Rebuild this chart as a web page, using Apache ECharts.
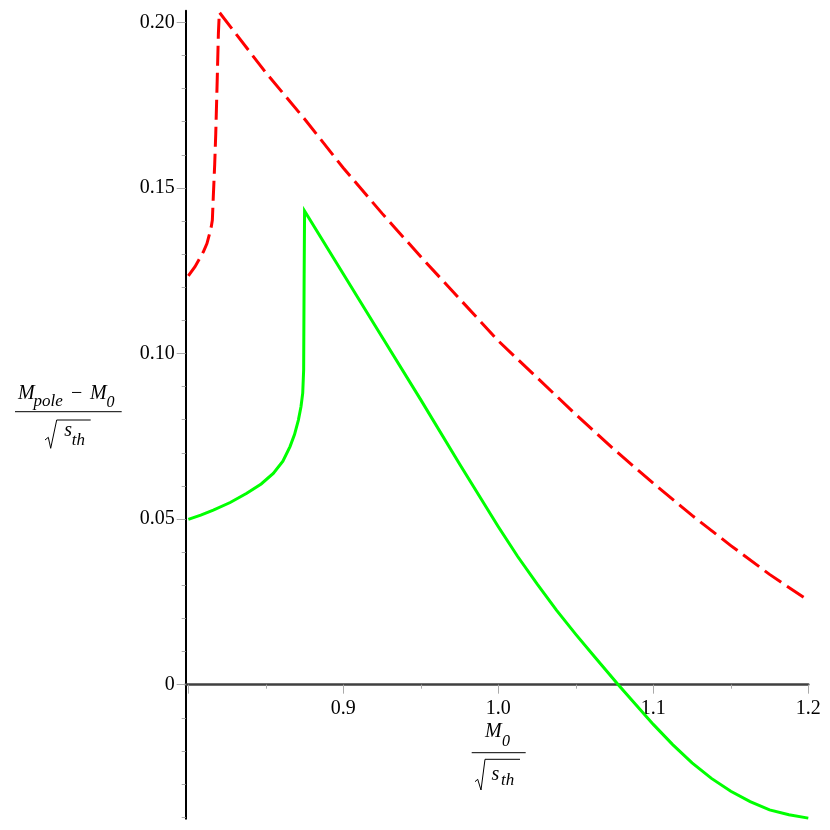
<!DOCTYPE html>
<html>
<head>
<meta charset="utf-8">
<script src="https://cdn.jsdelivr.net/npm/echarts@6/dist/echarts.min.js"></script>
<style>html,body{margin:0;padding:0;background:#fff}#c{width:830px;height:830px}</style>
</head>
<body>
<div id="c"></div>
<script>
// ---- data ----
var redX = [0.800, 0.8043, 0.8097, 0.8120, 0.8135, 0.8148, 0.8155, 0.8161, 0.8170, 0.8177, 0.8186, 0.8194, 0.8200, 0.850, 0.875, 0.900, 0.925, 0.950, 0.975, 1.000, 1.025, 1.050, 1.075, 1.100, 1.125, 1.150, 1.175, 1.200];
var redY = [0.1234, 0.1262, 0.1307, 0.1332, 0.1358, 0.1383, 0.1403, 0.1473, 0.1570, 0.1665, 0.1820, 0.1967, 0.2030, 0.1848, 0.1708, 0.1560, 0.1423, 0.1292, 0.1165, 0.1038, 0.0927, 0.0816, 0.0709, 0.0608, 0.0511, 0.0420, 0.0333, 0.0254];
var greenX = [0.800, 0.808, 0.8161, 0.827, 0.8377, 0.847, 0.8548, 0.861, 0.8656, 0.8685, 0.8710, 0.8727, 0.8738, 0.8744, 0.8747, 0.8750, 0.900, 0.925, 0.950, 0.975, 1.000, 1.0125, 1.025, 1.0375, 1.050, 1.0625, 1.0774, 1.100, 1.1125, 1.125, 1.1375, 1.150, 1.1625, 1.175, 1.1875, 1.200];
var greenY = [0.0499, 0.0512, 0.0527, 0.0550, 0.0578, 0.0606, 0.0638, 0.0675, 0.0719, 0.0755, 0.0799, 0.0840, 0.0880, 0.0950, 0.1222, 0.1430, 0.1240, 0.1050, 0.0860, 0.0666, 0.0477, 0.0387, 0.0304, 0.0225, 0.0152, 0.0082, 0.0000, -0.0120, -0.0181, -0.0236, -0.0283, -0.0322, -0.0353, -0.0378, -0.0393, -0.0403];
var xMajorTicks = [0.8, 0.9, 1.0, 1.1, 1.2];
var xMinorTicks = [0.85, 0.95, 1.05, 1.15];
var xTickLabels = [0.9, 1.0, 1.1, 1.2];
var yTickLabels = [0, 0.05, 0.10, 0.15, 0.20];
var yMinorTicks = [-0.04, -0.03, -0.02, -0.01, 0.01, 0.02, 0.03, 0.04, 0.06, 0.07, 0.08, 0.09, 0.11, 0.12, 0.13, 0.14, 0.16, 0.17, 0.18, 0.19];
var xRange = [0.7983, 1.2];
var yRange = [-0.0405, 0.2035];

function pairs(xs, ys) { return xs.map(function (x, i) { return [x, ys[i]]; }); }

var FONT = '"Liberation Serif", "Times New Roman", serif';
var tickColor = '#aaaaaa';

var GRID = { left: 185.7, top: 10.7, width: 622.6, height: 808.1 };
// distance from the grid bottom up to y = 0 (x axis drawn through zero)
var zeroOffset = -GRID.height * (0 - yRange[0]) / (yRange[1] - yRange[0]);

var chart = echarts.init(document.getElementById('c'), null, { renderer: 'canvas' });

function xAx(ticks, len, labels, showLine) {
  return {
    type: 'value', min: xRange[0], max: xRange[1], position: 'bottom', offset: zeroOffset,
    axisLine: { show: showLine, onZero: false, lineStyle: { color: '#404040', width: 2.5 } },
    axisTick: { show: true, length: len, customValues: ticks, lineStyle: { color: tickColor, width: 1 } },
    axisLabel: labels ? {
      show: true, customValues: labels, margin: 14, color: '#000', fontFamily: FONT, fontSize: 20,
      formatter: function (v) { return v.toFixed(1); }
    } : { show: false },
    splitLine: { show: false }
  };
}
function yAx(ticks, len, labels, showLine) {
  return {
    type: 'value', min: yRange[0], max: yRange[1], position: 'left',
    axisLine: { show: showLine, onZero: false, lineStyle: { color: '#000', width: 2 } },
    axisTick: { show: true, length: len, customValues: ticks, lineStyle: { color: tickColor, width: 1 } },
    axisLabel: labels ? {
      show: true, customValues: labels, margin: 11, color: '#000', fontFamily: FONT, fontSize: 20,
      formatter: function (v) { return Math.abs(v) < 1e-9 ? '0' : v.toFixed(2); }
    } : { show: false },
    splitLine: { show: false }
  };
}

var it = 'italic 20px ' + FONT;
var its = 'italic 17px ' + FONT;
var its0 = 'italic 16px ' + FONT;
function txt(s, x, y, font) {
  return { type: 'text', silent: true, style: { text: s, x: x, y: y, font: font, fill: '#000', textAlign: 'left', textVerticalAlign: 'middle' } };
}
function ln(pts) {
  return { type: 'polyline', silent: true, shape: { points: pts }, style: { stroke: '#000', lineWidth: 1, fill: null } };
}

chart.setOption({
  animation: false,
  backgroundColor: '#fff',
  grid: { left: GRID.left, top: GRID.top, width: GRID.width, height: GRID.height, containLabel: false, outerBoundsMode: 'none' },
  xAxis: [
    xAx(xMajorTicks, 9, xTickLabels, true),
    xAx(xMinorTicks, 4, null, false)
  ],
  yAxis: [
    yAx(yTickLabels, 9, yTickLabels, true),
    yAx(yMinorTicks, 4, null, false)
  ],
  series: [
    {
      type: 'line', data: pairs(redX, redY), showSymbol: false, symbol: 'none', clip: false,
      lineStyle: { color: '#ff0000', width: 3, type: [20, 7], cap: 'butt', join: 'miter' }, z: 3
    },
    {
      type: 'line', data: pairs(greenX, greenY), showSymbol: false, symbol: 'none', clip: false,
      lineStyle: { color: '#00ff00', width: 3, join: 'miter' }, z: 3
    }
  ],
  graphic: [
    // x-axis title: M0 / sqrt(s_th)
    txt('M', 485, 732, it),
    txt('0', 502, 742, its0),
    ln([[471.7, 752.7], [525.7, 752.7]]),
    ln([[475, 781.7], [477.7, 779.3], [481, 790], [485, 759.3], [520, 759.3]]),
    txt('s', 491.5, 775, it),
    txt('th', 501, 781, its),
    // y-axis title: (M_pole - M0) / sqrt(s_th)
    txt('M', 18, 393.3, it),
    txt('pole', 33.5, 402, its),
    txt('\u2212', 71, 393.3, '20px ' + FONT),
    txt('M', 90, 393.3, it),
    txt('0', 106.5, 403, its0),
    ln([[15, 411.7], [121.7, 411.7]]),
    ln([[45, 440], [48.3, 437.3], [50.7, 448.3], [56.7, 420], [90.7, 420]]),
    txt('s', 64.3, 431, it),
    txt('th', 71.7, 441, its)
  ]
});
</script>
</body>
</html>
